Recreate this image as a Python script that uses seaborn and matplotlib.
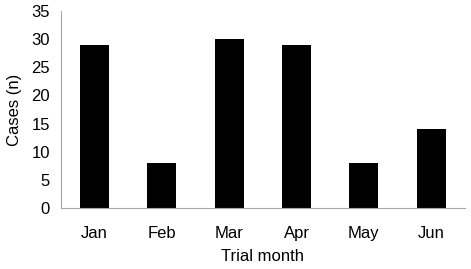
import numpy as np
import pandas as pd
import matplotlib
matplotlib.use("Agg")
import matplotlib.pyplot as plt
import seaborn as sns

months = ["Jan", "Feb", "Mar", "Apr", "May", "Jun"]
cases = [29, 8, 30, 29, 8, 14]
y_ticks = [0, 5, 10, 15, 20, 25, 30, 35]

df = pd.DataFrame({"month": months, "cases": cases})

sns.set_style("white")
plt.rcParams["font.family"] = ["Liberation Sans", "DejaVu Sans"]
plt.rcParams["font.size"] = 9
plt.rcParams["text.color"] = "black"
plt.rcParams["axes.labelcolor"] = "black"
plt.rcParams["xtick.labelcolor"] = "black"
plt.rcParams["ytick.labelcolor"] = "black"

axis_grey = "#a6a6a6"

fig = plt.figure(figsize=(4.71, 2.69), dpi=100)
ax = fig.add_axes([0.1295, 0.2268, 0.8575, 0.7322])

sns.barplot(data=df, x="month", y="cases", color="black", width=0.43,
            saturation=1, edgecolor="black", linewidth=0, ax=ax)

ax.set_xlim(-0.5, len(months) - 0.5)
ax.set_ylim(0, 35)
ax.set_yticks(y_ticks)

# category boundary ticks on the x axis
ax.set_xticks(np.arange(-0.5, len(months), 1.0), minor=True)
ax.tick_params(axis="x", which="major", length=0, pad=13, labelsize=12, labelcolor="black")
ax.tick_params(axis="x", which="minor", length=4, width=0.8, color=axis_grey, direction="out")
ax.tick_params(axis="y", length=3, width=0.8, color=axis_grey, direction="out", pad=5,
               labelsize=12, labelcolor="black")

for side in ["top", "right"]:
    ax.spines[side].set_visible(False)
for side in ["left", "bottom"]:
    ax.spines[side].set_color(axis_grey)
    ax.spines[side].set_linewidth(0.8)

ax.set_xlabel("Trial month", fontsize=12, labelpad=6, color="black")
ax.set_ylabel("Cases (n)", fontsize=12, labelpad=7, color="black")

fig.savefig("out.png", dpi=100)
plt.close(fig)
